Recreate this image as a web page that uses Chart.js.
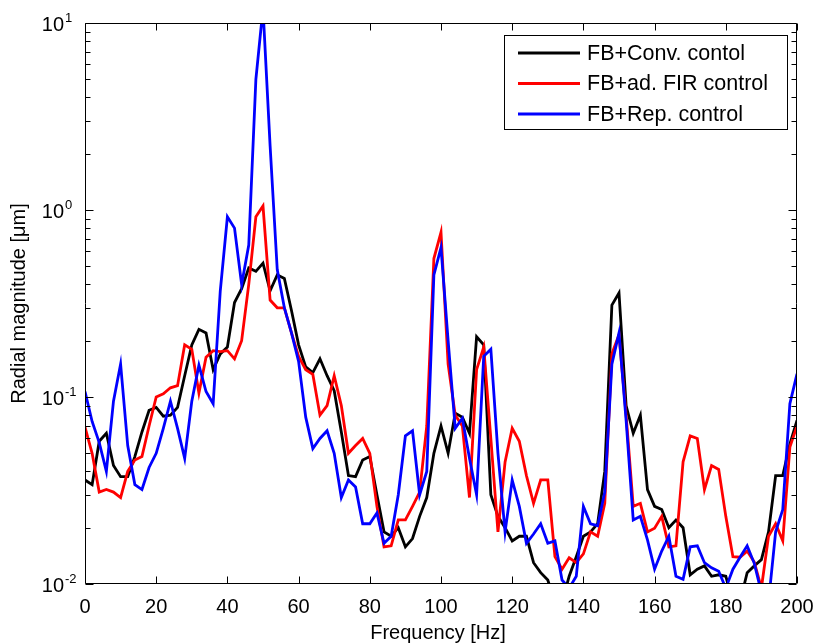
<!DOCTYPE html>
<html>
<head>
<meta charset="utf-8">
<script src="https://cdn.jsdelivr.net/npm/chart.js@4/dist/chart.umd.min.js"></script>
<style>
  html, body { margin: 0; padding: 0; background: #fff; }
</style>
</head>
<body>
<canvas id="myChart" width="816" height="644"></canvas>
<script>
// frequency axis [Hz]
const freq = [0,2,4,6,8,10,12,14,16,18,20,22,24,26,28,30,32,34,36,38,40,42,44,46,48,50,
  52,54,56,58,60,62,64,66,68,70,72,74,76,78,80,82,84,86,88,90,92,94,96,98,100,
  102,104,106,108,110,112,114,116,118,120,122,124,126,128,130,132,134,136,138,140,
  142,144,146,148,150,152,154,156,158,160,162,164,166,168,170,172,174,176,178,180,
  182,184,186,188,190,192,194,196,198,200];

// radial magnitude [um]
const conv = [0.036,0.034,0.058,0.064,0.043,0.0375,0.0375,0.048,0.065,0.085,0.088,
  0.079,0.080,0.088,0.13,0.19,0.23,0.22,0.14,0.17,0.185,
  0.32,0.38,0.49,0.47,0.52,0.37,0.45,0.43,0.29,0.19,
  0.145,0.135,0.16,0.13,0.108,0.065,0.038,0.0375,0.046,0.048,
  0.030,0.019,0.018,0.020,0.0158,0.0175,0.023,0.029,0.05,0.07,
  0.05,0.082,0.078,0.064,0.21,0.19,0.03,0.023,0.02,0.017,
  0.018,0.018,0.013,0.0115,0.0105,0.008,0.008,0.011,0.014,0.018,
  0.019,0.021,0.04,0.31,0.36,0.09,0.064,0.08,0.032,0.026,
  0.025,0.02,0.022,0.02,0.0112,0.012,0.0125,0.011,0.0112,0.011,
  0.008,0.008,0.0115,0.0125,0.0135,0.019,0.038,0.038,0.056,0.075];

const fir = [0.069,0.05,0.031,0.032,0.031,0.029,0.04,0.046,0.048,0.07,0.1,
  0.104,0.112,0.115,0.19,0.18,0.105,0.163,0.177,0.175,0.177,
  0.16,0.2,0.4,0.92,1.05,0.33,0.3,0.3,0.22,0.165,
  0.14,0.132,0.08,0.09,0.13,0.09,0.05,0.055,0.06,0.05,
  0.026,0.0158,0.016,0.022,0.022,0.026,0.031,0.07,0.55,0.76,
  0.15,0.08,0.07,0.029,0.14,0.185,0.06,0.019,0.045,0.068,
  0.058,0.038,0.027,0.036,0.036,0.014,0.012,0.0138,0.013,0.0145,
  0.019,0.018,0.027,0.17,0.215,0.08,0.026,0.027,0.019,0.0199,
  0.023,0.0158,0.016,0.045,0.062,0.06,0.032,0.043,0.041,0.023,
  0.014,0.0139,0.015,0.0131,0.0095,0.018,0.021,0.017,0.054,0.07];

const rep = [0.107,0.074,0.057,0.04,0.095,0.15,0.055,0.034,0.032,0.042,0.05,
  0.068,0.095,0.068,0.047,0.095,0.148,0.107,0.092,0.37,0.92,
  0.8,0.4,0.65,5.0,12,2.2,0.48,0.3,0.22,0.155,
  0.078,0.053,0.06,0.066,0.05,0.029,0.036,0.033,0.021,0.021,
  0.024,0.0165,0.018,0.03,0.062,0.066,0.03,0.04,0.45,0.63,
  0.2,0.068,0.077,0.047,0.03,0.165,0.18,0.05,0.019,0.036,
  0.026,0.0165,0.0185,0.021,0.0165,0.017,0.0105,0.0095,0.011,0.026,
  0.021,0.0205,0.031,0.15,0.22,0.075,0.022,0.023,0.0172,0.012,
  0.015,0.018,0.011,0.0106,0.0158,0.016,0.013,0.0122,0.0117,0.0095,
  0.012,0.0139,0.016,0.0129,0.009,0.008,0.019,0.025,0.092,0.133];

const seriesNames = ['FB+Conv. contol', 'FB+ad. FIR control', 'FB+Rep. control'];
const seriesColors = ['#000000', '#ff0000', '#0000ff'];
const xTicks = [0, 20, 40, 60, 80, 100, 120, 140, 160, 180, 200];
const yExponents = [-2, -1, 0, 1];

const FONT = '"Liberation Sans", Arial, Helvetica, sans-serif';

function pts(vals) {
  return freq.map((f, i) => ({ x: f, y: vals[i] }));
}

// MATLAB-like box, inward ticks, labels and legend
const matlabAxes = {
  id: 'matlabAxes',
  afterDraw(chart) {
    const { ctx, chartArea: a, scales } = chart;
    const xs = scales.x, ys = scales.y;
    const L = Math.round(a.left) + 0.5, R = Math.round(a.right) - 0.5;
    const T = Math.round(a.top) + 0.5, B = Math.round(a.bottom) - 0.5;
    ctx.save();
    ctx.strokeStyle = '#000';
    ctx.lineWidth = 1;
    ctx.beginPath();
    ctx.rect(L, T, R - L, B - T);

    // x ticks top and bottom
    xTicks.forEach(v => {
      const px = Math.round(xs.getPixelForValue(v)) + 0.5;
      ctx.moveTo(px, B); ctx.lineTo(px, B - 7);
      ctx.moveTo(px, T); ctx.lineTo(px, T + 7);
    });
    // y ticks (log, major + minor) left and right
    for (let e = yExponents[0]; e <= yExponents[yExponents.length - 1]; e++) {
      for (let m = 1; m <= 9; m++) {
        const v = m * Math.pow(10, e);
        if (v > 10.0001) break;
        const py = Math.round(ys.getPixelForValue(v)) + 0.5;
        const len = m === 1 ? 8 : 5;
        ctx.moveTo(L, py); ctx.lineTo(L + len, py);
        ctx.moveTo(R, py); ctx.lineTo(R - len, py);
      }
    }
    ctx.stroke();

    ctx.fillStyle = '#000';
    // x tick labels
    ctx.font = '20px ' + FONT;
    ctx.textAlign = 'center';
    ctx.textBaseline = 'alphabetic';
    xTicks.forEach(v => {
      ctx.fillText(String(v), xs.getPixelForValue(v), a.bottom + 29);
    });
    // x title
    ctx.fillText('Frequency [Hz]', (a.left + a.right) / 2 - 3, a.bottom + 55);

    // y tick labels 10^n
    yExponents.forEach(e => {
      const py = ys.getPixelForValue(Math.pow(10, e));
      ctx.font = '20px ' + FONT;
      ctx.textAlign = 'right';
      ctx.fillText('10', 64, py + 8);
      ctx.font = '13px ' + FONT;
      ctx.textAlign = 'left';
      ctx.fillText(String(e), 65, py - 1);
    });

    // y title
    ctx.save();
    ctx.translate(25, (a.top + a.bottom) / 2);
    ctx.rotate(-Math.PI / 2);
    ctx.font = '20px ' + FONT;
    ctx.textAlign = 'center';
    ctx.fillText('Radial magnitude [\u03bcm]', 0, 0);
    ctx.restore();

    // legend box
    const bx = 504.5, by = 35.5, bw = 283, bh = 94;
    ctx.fillStyle = '#fff';
    ctx.fillRect(bx, by, bw, bh);
    ctx.strokeStyle = '#000';
    ctx.lineWidth = 1;
    ctx.strokeRect(bx, by, bw, bh);
    ctx.font = '21.5px ' + FONT;
    ctx.textAlign = 'left';
    ctx.textBaseline = 'middle';
    seriesNames.forEach((name, i) => {
      const yy = 53 + i * 30.5;
      ctx.strokeStyle = seriesColors[i];
      ctx.lineWidth = 2.8;
      ctx.beginPath();
      ctx.moveTo(518, yy); ctx.lineTo(580, yy);
      ctx.stroke();
      ctx.fillStyle = '#000';
      ctx.fillText(name, 587, yy + 1);
    });
    ctx.restore();
  }
};

const ctx = document.getElementById('myChart');
new Chart(ctx, {
  type: 'line',
  data: {
    datasets: [
      { label: seriesNames[0], data: pts(conv), borderColor: seriesColors[0], order: 3 },
      { label: seriesNames[1], data: pts(fir), borderColor: seriesColors[1], order: 2 },
      { label: seriesNames[2], data: pts(rep), borderColor: seriesColors[2], order: 1 }
    ]
  },
  options: {
    responsive: false,
    animation: false,
    layout: { padding: { left: 85, top: 23, right: 19, bottom: 60 } },
    datasets: {
      line: { borderWidth: 2.8, pointRadius: 0, tension: 0, fill: false, clip: 0 }
    },
    plugins: { legend: { display: false }, tooltip: { enabled: false } },
    scales: {
      x: { type: 'linear', display: false, min: 0, max: 200 },
      y: { type: 'logarithmic', display: false, min: 0.01, max: 10 }
    }
  },
  plugins: [matlabAxes]
});
</script>
</body>
</html>
